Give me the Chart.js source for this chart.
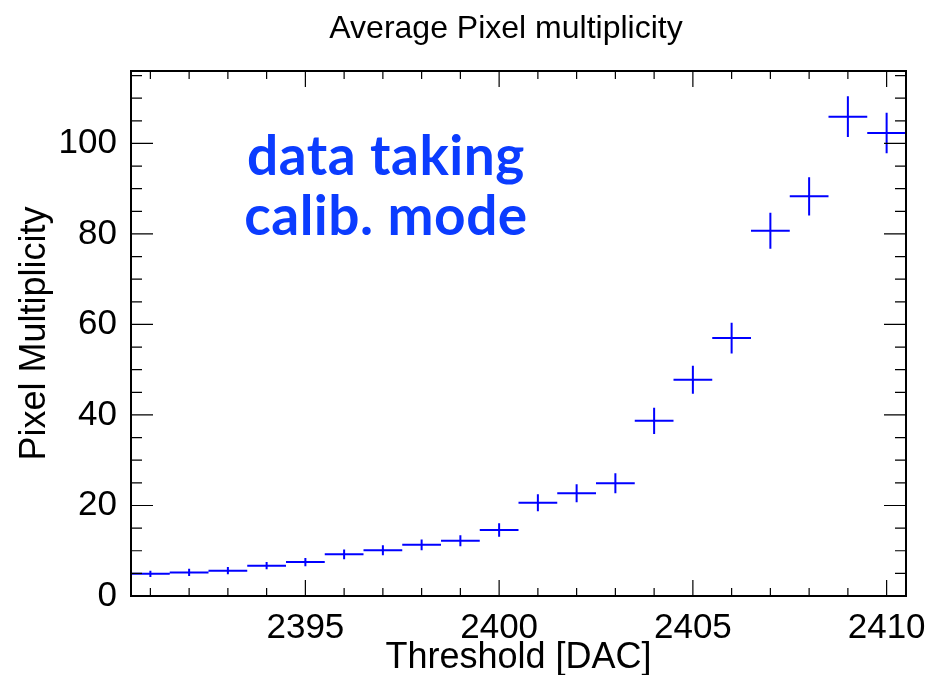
<!DOCTYPE html>
<html>
<head>
<meta charset="utf-8">
<script src="https://cdn.jsdelivr.net/npm/chart.js@4.4.0/dist/chart.umd.min.js"></script>
<style>
  html, body { margin: 0; padding: 0; background: #fff; }
  #wrap { width: 930px; height: 675px; }
</style>
</head>
<body>
<div id="wrap"><canvas id="chart-mult"></canvas></div>
<script>
// threshold scan, one bin per DAC step
var thresholds = [2391, 2392, 2393, 2394, 2395, 2396, 2397, 2398, 2399, 2400,
                  2401, 2402, 2403, 2404, 2405, 2406, 2407, 2408, 2409, 2410];
var multiplicity = [4.9, 5.2, 5.6, 6.7, 7.5, 9.2, 10.1, 11.3, 12.2, 14.6,
                    20.6, 22.7, 24.9, 38.7, 47.8, 57.0, 80.7, 88.3, 105.9, 102.3];
var multErrors = [0.7, 0.8, 0.8, 0.8, 0.9, 1.1, 1.1, 1.2, 1.2, 1.5,
                  1.9, 2.0, 2.2, 2.9, 3.1, 3.4, 4.0, 4.2, 4.5, 4.5];
var binHalfWidth = 0.5;
var xTickLabels = [2395, 2400, 2405, 2410];
var yTickLabels = [0, 20, 40, 60, 80, 100];

var FONT = "'Liberation Sans', Arial, Helvetica, sans-serif";

// ROOT style error crosses
var errorCrosses = {
  id: "errorCrosses",
  afterDatasetsDraw: function (chart) {
    var ctx = chart.ctx;
    var xs = chart.scales.x;
    var ys = chart.scales.y;
    ctx.save();
    ctx.strokeStyle = "#0000ff";
    ctx.lineWidth = 2;
    ctx.beginPath();
    thresholds.forEach(function (t, i) {
      var py = ys.getPixelForValue(multiplicity[i]);
      ctx.moveTo(xs.getPixelForValue(t - binHalfWidth), py);
      ctx.lineTo(xs.getPixelForValue(t + binHalfWidth), py);
      var px = xs.getPixelForValue(t);
      ctx.moveTo(px, ys.getPixelForValue(multiplicity[i] - multErrors[i]));
      ctx.lineTo(px, ys.getPixelForValue(multiplicity[i] + multErrors[i]));
    });
    ctx.stroke();
    ctx.restore();
  },
};

// frame with inward ticks on all four sides
var rootFrame = {
  id: "rootFrame",
  afterDraw: function (chart) {
    var ctx = chart.ctx;
    var a = chart.chartArea;
    var xs = chart.scales.x;
    var ys = chart.scales.y;
    ctx.save();
    ctx.strokeStyle = "#000";
    ctx.lineWidth = 1.2;
    ctx.beginPath();
    for (var v = 2391; v <= 2410; v++) {
      var px = xs.getPixelForValue(v);
      var len = v % 5 === 0 ? 16 : 8;
      ctx.moveTo(px, a.bottom);
      ctx.lineTo(px, a.bottom - len);
      ctx.moveTo(px, a.top);
      ctx.lineTo(px, a.top + len);
    }
    for (var y = 0; y <= 115; y += 5) {
      var py = ys.getPixelForValue(y);
      var l = y % 20 === 0 ? 22 : 11;
      ctx.moveTo(a.left, py);
      ctx.lineTo(a.left + l, py);
      ctx.moveTo(a.right, py);
      ctx.lineTo(a.right - l, py);
    }
    ctx.stroke();
    ctx.lineWidth = 2;
    ctx.strokeRect(a.left, a.top, a.right - a.left, a.bottom - a.top);

    // title and annotation
    ctx.textAlign = "center";
    ctx.textBaseline = "alphabetic";
    ctx.fillStyle = "#000";
    ctx.font = "32px " + FONT;
    ctx.fillText("Average Pixel multiplicity", 506, 38);
    ctx.fillStyle = "#0b3cff";
    ctx.font = "bold 55px Lato, 'Open Sans', sans-serif";
    ctx.letterSpacing = "0.5px";
    ctx.fillText("data taking", 386, 175);
    ctx.fillText("calib. mode", 386, 235);
    ctx.restore();
  },
};

var ctx1 = document.getElementById("chart-mult").getContext("2d");
new Chart(ctx1, {
  type: "scatter",
  data: {
    datasets: [
      {
        label: "Pixel Multiplicity",
        data: thresholds.map(function (t, i) {
          return { x: t, y: multiplicity[i] };
        }),
        pointRadius: 0,
        showLine: false,
      },
    ],
  },
  options: {
    responsive: true,
    maintainAspectRatio: false,
    animation: false,
    layout: {
      padding: { top: 71, right: 24, left: 0, bottom: 0 },
    },
    plugins: {
      legend: { display: false },
      tooltip: { enabled: false },
    },
    scales: {
      x: {
        type: "linear",
        min: 2390.5,
        max: 2410.5,
        grid: { display: false },
        border: { display: false },
        afterBuildTicks: function (scale) {
          scale.ticks = xTickLabels.map(function (v) {
            return { value: v };
          });
        },
        afterFit: function (scale) {
          scale.height = 79;
        },
        ticks: {
          autoSkip: false,
          maxRotation: 0,
          padding: 3,
          color: "#000",
          font: { family: FONT, size: 35 },
          callback: function (value) {
            return String(value);
          },
        },
        title: {
          display: true,
          text: "Threshold [DAC]",
          color: "#000",
          font: { family: FONT, size: 36, lineHeight: 0.95 },
          padding: { top: 0, bottom: 0 },
        },
      },
      y: {
        min: 0,
        max: 116,
        grid: { display: false },
        border: { display: false },
        afterBuildTicks: function (scale) {
          scale.ticks = yTickLabels.map(function (v) {
            return { value: v };
          });
        },
        afterFit: function (scale) {
          scale.width = 131;
        },
        ticks: {
          padding: 6,
          color: "#000",
          font: { family: FONT, size: 35 },
          callback: function (value) {
            return String(value);
          },
        },
        title: {
          display: true,
          text: "Pixel Multiplicity",
          color: "#000",
          font: { family: FONT, size: 36 },
          padding: { top: 13, bottom: 0 },
        },
      },
    },
  },
  plugins: [errorCrosses, rootFrame],
});
</script>
</body>
</html>
